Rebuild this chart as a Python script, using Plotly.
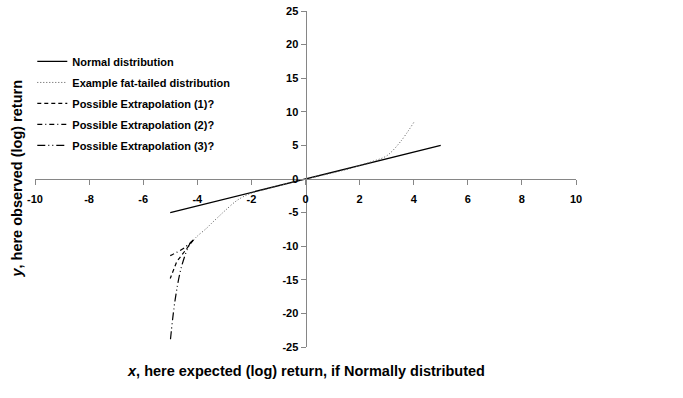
import plotly.graph_objects as go

# Data
normal_x = [-5, 5]
normal_y = [-5, 5]

fat_x = [-4.15, -4.0, -3.65, -3.5, -3.16, -3.0, -2.5, -2.0, -1.5, -1.0, -0.5, 0.0, 0.5, 1.0, 1.5, 2.0, 2.5, 3.0, 3.5, 4.0]
fat_y = [-9.1, -8.5, -7.3, -6.7, -5.4, -4.8, -3.1, -2.1, -1.55, -1.0, -0.5, 0.0, 0.45, 0.9, 1.4, 2.0, 2.65, 3.45, 5.5, 8.4]

ext1_x = [-4.15, -4.45, -4.76, -5.0]
ext1_y = [-9.1, -10.6, -12.3, -14.8]

ext2_x = [-4.15, -4.5, -5.0]
ext2_y = [-9.1, -10.3, -11.4]

ext3_x = [-4.15, -4.27, -4.58, -4.82, -5.0]
ext3_y = [-9.1, -9.6, -13.0, -18.0, -24.2]

x_ticks = [-10, -8, -6, -4, -2, 0, 2, 4, 6, 8, 10]
y_ticks = [-25, -20, -15, -10, -5, 0, 5, 10, 15, 20, 25]

names = ["Normal distribution", "Example fat-tailed distribution",
         "Possible Extrapolation (1)?", "Possible Extrapolation (2)?",
         "Possible Extrapolation (3)?"]

FONT = "Liberation Sans, Arial, sans-serif"

fig = go.Figure()
fig.add_trace(go.Scatter(x=normal_x, y=normal_y, mode="lines", name=names[0], legendgroup="g0",
                         line=dict(color="black", width=1.3)))
fig.add_trace(go.Scatter(x=fat_x, y=fat_y, mode="lines", name=names[1], legendgroup="g1",
                         line=dict(color="#555555", width=1, dash="1px,2px", shape="spline")))
fig.add_trace(go.Scatter(x=ext1_x, y=ext1_y, mode="lines", name=names[2], legendgroup="g2",
                         line=dict(color="black", width=1.2, dash="4px,3px")))
fig.add_trace(go.Scatter(x=ext2_x, y=ext2_y, mode="lines", name=names[3], legendgroup="g3",
                         line=dict(color="black", width=1.2, dash="5px,3px,1px,3px", shape="spline")))
fig.add_trace(go.Scatter(x=ext3_x, y=ext3_y, mode="lines", name=names[4], legendgroup="g4",
                         line=dict(color="black", width=1.2, dash="8px,3px,1px,3px,1px,3px", shape="spline")))

axis_common = dict(
    showgrid=False, zeroline=False, showline=True, linecolor="#868686", linewidth=1,
    ticks="outside", ticklen=5, tickcolor="#868686", automargin=False,
    ticklabeloverflow="allow",
    tickfont=dict(family=FONT, size=11, color="black", weight="bold"),
    anchor="free", position=0.5,
)

fig.update_layout(
    width=683, height=398,
    margin=dict(l=35, r=107, t=11, b=51),
    paper_bgcolor="white", plot_bgcolor="white",
    xaxis=dict(range=[-10, 10], tickvals=x_ticks, ticktext=[str(v) for v in x_ticks],
               ticklabelstandoff=5, **axis_common),
    yaxis=dict(range=[-25, 25], tickvals=y_ticks, ticktext=[str(v) for v in y_ticks], **axis_common),
    showlegend=True,
    legend=dict(x=-0.005, y=0.893, xanchor="left", yanchor="top",
                bgcolor="rgba(0,0,0,0)", itemwidth=30, tracegroupgap=2,
                font=dict(family=FONT, size=11, color="black", weight="bold")),
    annotations=[
        dict(text="<i>x</i>, here expected (log) return, if Normally distributed",
             xref="paper", yref="paper", x=0.5, y=-0.042, xanchor="center", yanchor="top",
             showarrow=False, font=dict(family=FONT, size=14.5, color="black", weight="bold")),
        dict(text="<i>y</i>, here observed (log) return",
             xref="paper", yref="paper", x=-0.034, y=0.5, xanchor="center", yanchor="middle",
             textangle=-90, showarrow=False,
             font=dict(family=FONT, size=14.5, color="black", weight="bold")),
    ],
)

fig.write_html("out.html", post_script="document.body.style.margin='0';",
               config={"displayModeBar": False})
